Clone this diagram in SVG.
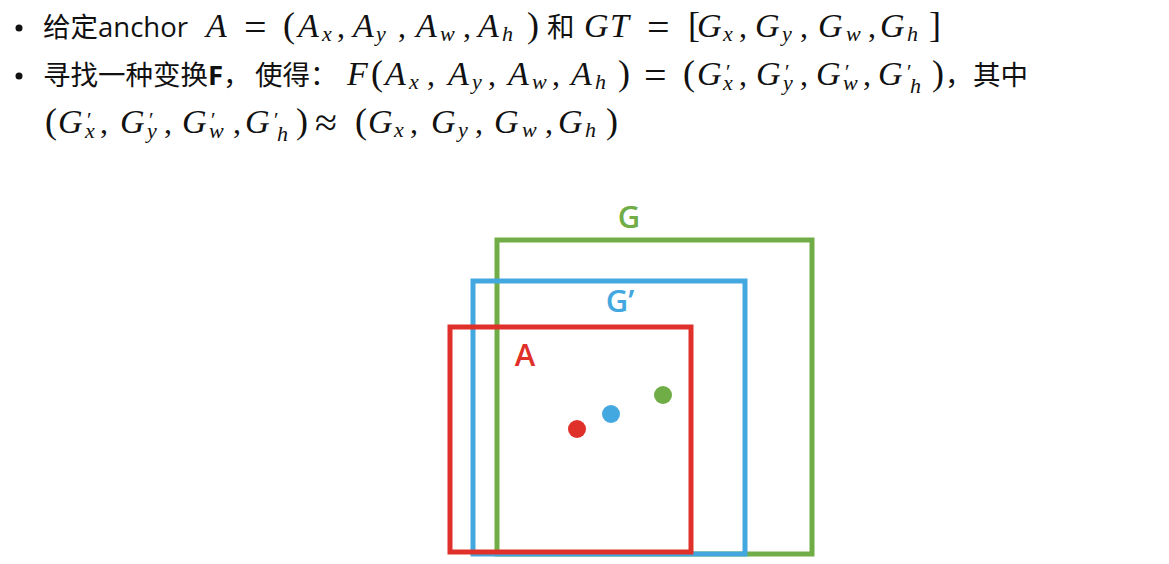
<svg xmlns="http://www.w3.org/2000/svg" width="1169" height="564" viewBox="0 0 1169 564">
<style>
.t{font-family:"Open Sans","Noto Sans CJK SC",sans-serif;font-size:27.5px;fill:#111}
.c{font-family:"Noto Sans CJK SC",sans-serif;font-size:27.5px;fill:#111}
.mt{font-family:"Liberation Serif","DejaVu Serif",serif;fill:#111;font-size:34px}
.m{font-style:italic;font-size:34px}
.s{font-style:italic;font-size:22px}
.p{font-style:normal;font-size:21px}
.r{font-style:normal;font-size:32px}
.b{font-style:normal;font-size:36px}
.e{font-style:normal;font-size:40px}
.box{fill:none;stroke-width:5}
.lbl{font-family:"Open Sans","Liberation Sans",sans-serif;font-weight:600;font-size:31px}
</style>
<rect width="1169" height="564" fill="#fff"/>
<g id="line1">
<circle cx="19" cy="28" r="3.5" fill="#111"/>
<text class="t" x="43" y="37">给定anchor</text>
<text class="mt"><tspan class="m" x="206" y="37">A</tspan><tspan class="e" x="244" y="41">=</tspan><tspan class="b" x="283" y="37">(</tspan><tspan class="m" x="298" y="37">A</tspan><tspan class="s" x="322" y="41">x</tspan><tspan class="r" x="337" y="37">,</tspan><tspan class="m" x="353" y="37">A</tspan><tspan class="s" x="376" y="41">y</tspan><tspan class="r" x="398" y="37">,</tspan><tspan class="m" x="416" y="37">A</tspan><tspan class="s" x="440" y="41">w</tspan><tspan class="r" x="463" y="37">,</tspan><tspan class="m" x="478" y="37">A</tspan><tspan class="s" x="502" y="41">h</tspan><tspan class="b" x="527" y="37">)</tspan></text>
<text class="c" x="547" y="37">和</text>
<text class="mt"><tspan class="m" x="584" y="37">G</tspan><tspan class="m" x="610" y="37">T</tspan><tspan class="e" x="647" y="41">=</tspan><tspan class="b" x="688" y="37">[</tspan><tspan class="m" x="697" y="37">G</tspan><tspan class="s" x="723" y="41">x</tspan><tspan class="r" x="739" y="37">,</tspan><tspan class="m" x="755" y="37">G</tspan><tspan class="s" x="782" y="41">y</tspan><tspan class="r" x="800" y="37">,</tspan><tspan class="m" x="818" y="37">G</tspan><tspan class="s" x="846" y="41">w</tspan><tspan class="r" x="868" y="37">,</tspan><tspan class="m" x="880" y="37">G</tspan><tspan class="s" x="907" y="41">h</tspan><tspan class="b" x="929" y="37">]</tspan></text>
</g>
<g id="line2">
<circle cx="19" cy="76" r="3.5" fill="#111"/>
<text class="t" x="43" y="85">寻找一种变换<tspan font-weight="bold">F</tspan>，</text>
<text class="c" x="255" y="85">使得：</text>
<text class="mt"><tspan class="m" x="347" y="85">F</tspan><tspan class="b" x="371" y="85">(</tspan><tspan class="m" x="385" y="85">A</tspan><tspan class="s" x="409" y="89">x</tspan><tspan class="r" x="427" y="85">,</tspan><tspan class="m" x="448" y="85">A</tspan><tspan class="s" x="472" y="89">y</tspan><tspan class="r" x="488" y="85">,</tspan><tspan class="m" x="508" y="85">A</tspan><tspan class="s" x="532" y="89">w</tspan><tspan class="r" x="552" y="85">,</tspan><tspan class="m" x="571" y="85">A</tspan><tspan class="s" x="595" y="89">h</tspan><tspan class="b" x="618" y="85">)</tspan><tspan class="e" x="644" y="89">=</tspan><tspan class="b" x="683" y="85">(</tspan><tspan class="m" x="697" y="85">G</tspan><tspan class="p" x="726" y="79">′</tspan><tspan class="s" x="723" y="90">x</tspan><tspan class="r" x="739" y="85">,</tspan><tspan class="m" x="756" y="85">G</tspan><tspan class="p" x="785" y="79">′</tspan><tspan class="s" x="783" y="90">y</tspan><tspan class="r" x="800" y="85">,</tspan><tspan class="m" x="816" y="85">G</tspan><tspan class="p" x="845" y="79">′</tspan><tspan class="s" x="843" y="90">w</tspan><tspan class="r" x="863" y="85">,</tspan><tspan class="m" x="878" y="85">G</tspan><tspan class="p" x="907" y="79">′</tspan><tspan class="s" x="910" y="93">h</tspan><tspan class="b" x="932" y="85">)</tspan></text>
<text class="c" x="945" y="85">，</text>
<text class="c" x="973" y="85">其中</text>
</g>
<g id="line3">
<text class="mt"><tspan class="b" x="45" y="133">(</tspan><tspan class="m" x="58" y="133">G</tspan><tspan class="p" x="87" y="127">′</tspan><tspan class="s" x="85" y="138">x</tspan><tspan class="r" x="100" y="133">,</tspan><tspan class="m" x="120" y="133">G</tspan><tspan class="p" x="149" y="127">′</tspan><tspan class="s" x="147" y="138">y</tspan><tspan class="r" x="164" y="133">,</tspan><tspan class="m" x="182" y="133">G</tspan><tspan class="p" x="211" y="127">′</tspan><tspan class="s" x="209" y="138">w</tspan><tspan class="r" x="233" y="133">,</tspan><tspan class="m" x="245" y="133">G</tspan><tspan class="p" x="274" y="127">′</tspan><tspan class="s" x="277" y="141">h</tspan><tspan class="b" x="296" y="133">)</tspan><tspan class="e" x="315" y="136">≈</tspan><tspan class="b" x="355" y="133">(</tspan><tspan class="m" x="368" y="133">G</tspan><tspan class="s" x="394" y="137">x</tspan><tspan class="r" x="410" y="133">,</tspan><tspan class="m" x="431" y="133">G</tspan><tspan class="s" x="458" y="137">y</tspan><tspan class="r" x="475" y="133">,</tspan><tspan class="m" x="494" y="133">G</tspan><tspan class="s" x="522" y="137">w</tspan><tspan class="r" x="545" y="133">,</tspan><tspan class="m" x="558" y="133">G</tspan><tspan class="s" x="585" y="137">h</tspan><tspan class="b" x="606" y="133">)</tspan></text>
</g>
<g id="box-G">
<rect class="box" x="497" y="240" width="315" height="314" stroke="#70AD47"/>
<text class="lbl" x="629" y="228" text-anchor="middle" fill="#70AD47">G</text>
<circle cx="663" cy="395" r="9" fill="#70AD47"/>
</g>
<g id="box-Gp">
<rect class="box" x="473" y="281" width="272" height="273" stroke="#44A8E0"/>
<text class="lbl" x="620" y="312" text-anchor="middle" fill="#44A8E0">G’</text>
<circle cx="611" cy="414" r="9" fill="#44A8E0"/>
</g>
<g id="box-A">
<rect class="box" x="450" y="327" width="241" height="225" stroke="#E0302A"/>
<text class="lbl" x="525" y="366" text-anchor="middle" fill="#E0302A" font-size="33">A</text>
<circle cx="577" cy="429" r="9" fill="#E0302A"/>
</g>
</svg>
